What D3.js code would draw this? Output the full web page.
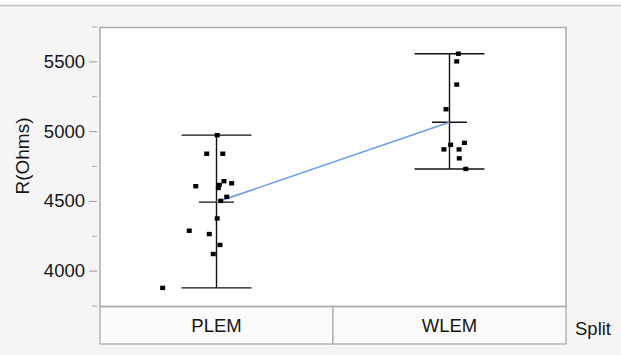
<!DOCTYPE html>
<html>
<head>
<meta charset="utf-8">
<script src="https://cdn.jsdelivr.net/npm/d3@7"></script>
<style>
  html, body { margin: 0; padding: 0; background: #f5f5f5; }
  svg { display: block; }
  text { font-family: "Liberation Sans", Arial, sans-serif; fill: #151515; }
</style>
</head>
<body>
<svg id="chart" width="621" height="355"></svg>
<script>
// ---- data ----
const categories = ["PLEM", "WLEM"];
const plemValues = [4971, 4838, 4838, 4605, 4614, 4641, 4626, 4593, 4529, 4500, 4374, 4286, 4262, 4184, 4119, 3876];
const plemJitter = [0.003, -0.042, 0.027, -0.089, 0.012, 0.032, 0.065, 0.008, 0.044, 0.018, 0.003, -0.117, -0.031, 0.015, -0.014, -0.231];
const wlemValues = [5555, 5500, 5334, 5157, 4902, 4916, 4869, 4869, 4805, 4729];
const wlemJitter = [0.038, 0.031, 0.031, -0.015, 0.005, 0.064, -0.024, 0.041, 0.042, 0.070];
const majorTicks = [4000, 4500, 5000, 5500];
const minorTicks = [3750, 4250, 4750, 5250, 5750];
const yTitle = "R(Ohms)";
const xTitle = "Split";

const groups = [
  { cat: categories[0], values: plemValues, jitter: plemJitter },
  { cat: categories[1], values: wlemValues, jitter: wlemJitter }
];

// ---- layout ----
const svg = d3.select("#chart");
const W = 621, H = 355;
const plot = { left: 100, right: 566, top: 27.5, bottom: 306.5 };
const catBottom = 344;

svg.append("rect").attr("x", 0).attr("y", 0).attr("width", W).attr("height", 5).attr("fill", "#ffffff");
svg.append("line").attr("x1", 0).attr("x2", W).attr("y1", 5.5).attr("y2", 5.5)
  .attr("stroke", "#c4c4c4").attr("stroke-width", 1.5);

const x = d3.scaleBand().domain(categories).range([plot.left, plot.right]).padding(0);
const y = d3.scaleLinear().domain([3750, 5750]).range([305.5, 26.5]);
const bw = x.bandwidth();
const cx = c => x(c) + bw / 2;

// plot background
svg.append("rect")
  .attr("x", plot.left).attr("y", plot.top)
  .attr("width", plot.right - plot.left).attr("height", plot.bottom - plot.top)
  .attr("fill", "#ffffff");

// category boxes
svg.append("g").selectAll("rect").data(categories).join("rect")
  .attr("x", d => x(d)).attr("y", plot.bottom)
  .attr("width", bw).attr("height", catBottom - plot.bottom)
  .attr("fill", "#fbfbfb").attr("stroke", "#ababab").attr("stroke-width", 1.3);

svg.append("g").selectAll("text").data(categories).join("text")
  .attr("x", d => cx(d)).attr("y", 332)
  .attr("text-anchor", "middle").attr("font-size", 18.5)
  .text(d => d);

// plot frame
svg.append("rect")
  .attr("x", plot.left).attr("y", plot.top)
  .attr("width", plot.right - plot.left).attr("height", plot.bottom - plot.top)
  .attr("fill", "none").attr("stroke", "#ababab").attr("stroke-width", 1.5);

// y axis (major + minor)
const axMajor = d3.axisLeft(y).tickValues(majorTicks).tickSize(8).tickPadding(4).tickFormat(d3.format("d"));
const gMaj = svg.append("g").attr("transform", `translate(${plot.left - 3},0)`).call(axMajor);
gMaj.select(".domain").remove();
gMaj.selectAll(".tick line").attr("stroke", "#999");
gMaj.selectAll(".tick text").attr("font-size", 18.5).attr("fill", "#151515")
  .attr("font-family", "Liberation Sans, Arial, sans-serif");

const axMinor = d3.axisLeft(y).tickValues(minorTicks).tickSize(5).tickFormat("");
const gMin = svg.append("g").attr("transform", `translate(${plot.left - 3},0)`).call(axMinor);
gMin.select(".domain").remove();
gMin.selectAll(".tick line").attr("stroke", "#aaa");

// y title
svg.append("text")
  .attr("transform", `translate(29,156) rotate(-90)`)
  .attr("text-anchor", "middle").attr("font-size", 19)
  .text(yTitle);

// x title
svg.append("text").attr("x", 575).attr("y", 335).attr("font-size", 18.5).text(xTitle);

// range bars and means
const stats = groups.map(g => ({
  cat: g.cat,
  min: d3.min(g.values), max: d3.max(g.values), mean: d3.mean(g.values)
}));

const gBars = svg.append("g").attr("stroke", "#111").attr("stroke-width", 1.4);
stats.forEach(s => {
  const c = cx(s.cat);
  gBars.append("line").attr("x1", c).attr("x2", c).attr("y1", y(s.min)).attr("y2", y(s.max));
  gBars.append("line").attr("x1", c - bw * 0.15).attr("x2", c + bw * 0.15).attr("y1", y(s.min)).attr("y2", y(s.min));
  gBars.append("line").attr("x1", c - bw * 0.15).attr("x2", c + bw * 0.15).attr("y1", y(s.max)).attr("y2", y(s.max));
  gBars.append("line").attr("x1", c - bw * 0.075).attr("x2", c + bw * 0.075).attr("y1", y(s.mean)).attr("y2", y(s.mean));
});

// mean connecting line
svg.append("path")
  .datum(stats)
  .attr("fill", "none").attr("stroke", "#6d9ce8").attr("stroke-width", 1.6)
  .attr("d", d3.line().x(d => cx(d.cat)).y(d => y(d.mean)));

// points
const pts = groups.flatMap(g => g.values.map((v, i) => ({ cat: g.cat, v, j: g.jitter[i] })));
svg.append("g").selectAll("rect").data(pts).join("rect")
  .attr("x", d => cx(d.cat) + d.j * bw - 2.5)
  .attr("y", d => y(d.v) - 2.2)
  .attr("width", 5).attr("height", 4.4)
  .attr("fill", "#000");
</script>
</body>
</html>
